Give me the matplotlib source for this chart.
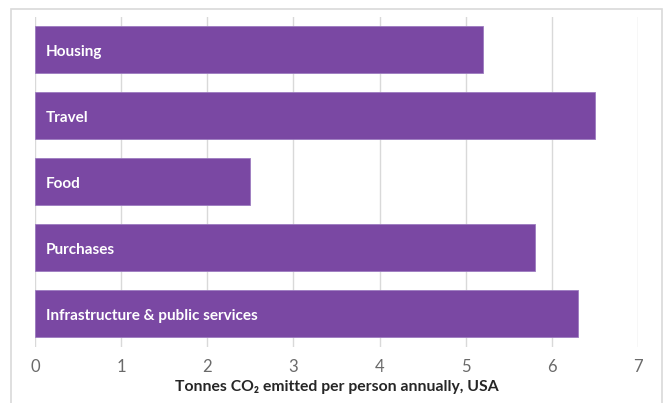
import matplotlib.pyplot as plt
from matplotlib.patches import Rectangle

# Font setup
plt.rcParams['font.family'] = ['Lato', 'DejaVu Sans']

# Data
categories = ['Housing', 'Travel', 'Food', 'Purchases', 'Infrastructure & public services']
values = [5.2, 6.5, 2.5, 5.8, 6.3]
xticks = [0, 1, 2, 3, 4, 5, 6, 7]

bar_color = '#7A48A3'

fig = plt.figure(figsize=(6.64, 4.03), dpi=100)
ax = fig.add_axes([0.0527, 0.139, 0.9083, 0.82])

# Light frame around the chart area
fig.patches.append(Rectangle((11 / 664, -0.05), 651 / 664, 1 - 9 / 403 + 0.05,
                             transform=fig.transFigure, fill=False,
                             edgecolor='#D9D9D9', linewidth=1.2))

ypos = list(range(len(categories)))
ax.barh(ypos, values, height=0.71, color=bar_color, edgecolor='#9C7BC0',
        linewidth=0.6, zorder=3)

# Category names inside the bars
for y, name in zip(ypos, categories):
    ax.text(0.13, y + 0.03, name, color='white', fontweight='bold', fontsize=11,
            va='center', ha='left', zorder=4)

ax.set_xlim(0, 7)
ax.set_ylim(4.5, -0.5)
ax.set_xticks(xticks)
ax.set_xticklabels([str(t) for t in xticks], fontsize=12, color='#6A6A6A')
ax.tick_params(axis='x', length=0, pad=9)
ax.set_yticks([])

ax.grid(True, axis='x', color='#D9D9D9', linewidth=1, zorder=0)
for s in ax.spines.values():
    s.set_visible(False)

ax.set_xlabel('Tonnes CO\u2082 emitted per person annually, USA', fontsize=11.3,
              fontweight='bold', color='#262626', labelpad=3)

plt.savefig('out.png', dpi=100)
